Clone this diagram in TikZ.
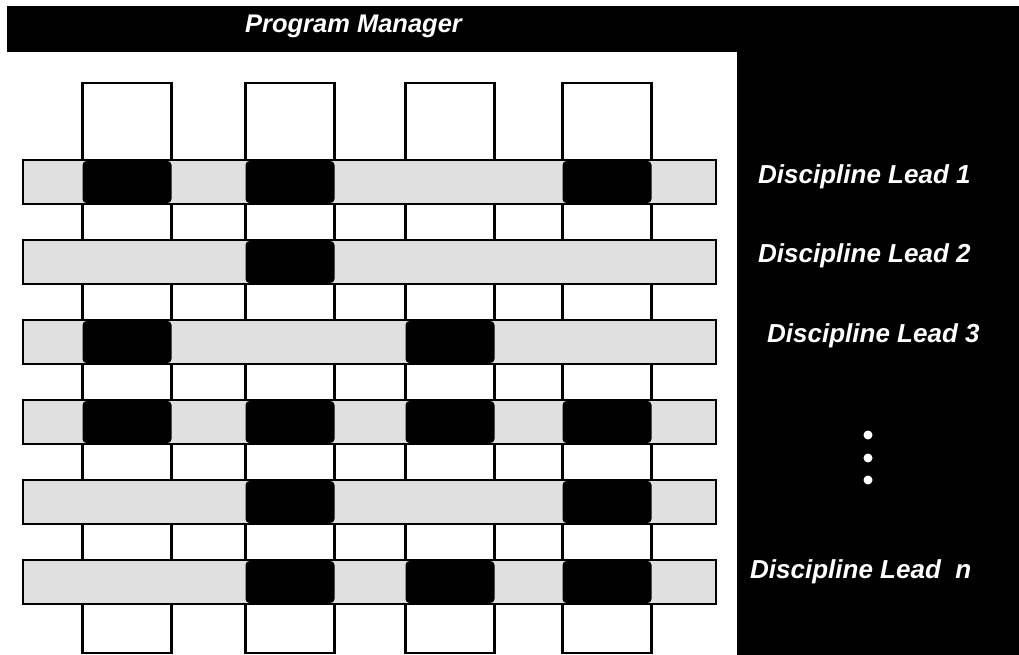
\documentclass[tikz,border=0pt]{standalone}
\usepackage{fontspec}
\setsansfont{Liberation Sans}
\usetikzlibrary{positioning}
\tikzset{
  colbox/.style={draw, line width=2.7pt, fill=white, minimum width=89pt, minimum height=570pt, inner sep=0pt},
  barbox/.style={draw, line width=2.7pt, fill=black!12, minimum width=693pt, minimum height=44pt, inner sep=0pt},
  cell/.style={fill=black, rounded corners=4pt, minimum width=89pt, minimum height=42pt, inner sep=0pt},
  lead/.style={text=white, font=\sffamily\bfseries\itshape\fontsize{26}{31}\selectfont, anchor=base west, inner sep=0pt},
  dot/.style={circle, fill=white, minimum size=9pt, inner sep=0pt},
}
\begin{document}
\begin{tikzpicture}[x=1pt, y=-1pt]
  \useasboundingbox (0,0) rectangle (1019,655);
  \fill[white] (0,0) rectangle (1019,655);
  % black frame: top bar and right panel
  \fill[black] (7,6) rectangle (1019,52);
  \fill[black] (737,52) rectangle (1019,655);
  \node[lead, anchor=base, font=\sffamily\bfseries\itshape\fontsize{25.5}{30}\selectfont] (pm) at (353.5,33) {Program Manager};
  % columns
  \foreach \x [count=\j] in {127,290,450,607} \node[colbox] (c\j) at (\x,368) {};
  % rows
  \foreach \i in {1,...,6} \node[barbox] (r\i) at (369.5,102+80*\i) {};
  % black cells
  \foreach \i/\j in {1/1,1/2,1/4,2/2,3/1,3/3,4/1,4/2,4/3,4/4,5/2,5/4,6/2,6/3,6/4}
    \node[cell] (k\i\j) at (c\j |- r\i) {};
  % discipline leads
  \node[lead] (l1) at (758,183) {Discipline Lead 1};
  \node[lead] (l2) at (758,262) {Discipline Lead 2};
  \node[lead] (l3) at (767,342) {Discipline Lead 3};
  \foreach \y [count=\k] in {435,458,480} \node[dot] (d\k) at (868,\y) {};
  \node[lead] (ln) at (750,578) {Discipline Lead~~n};
\end{tikzpicture}
\end{document}
